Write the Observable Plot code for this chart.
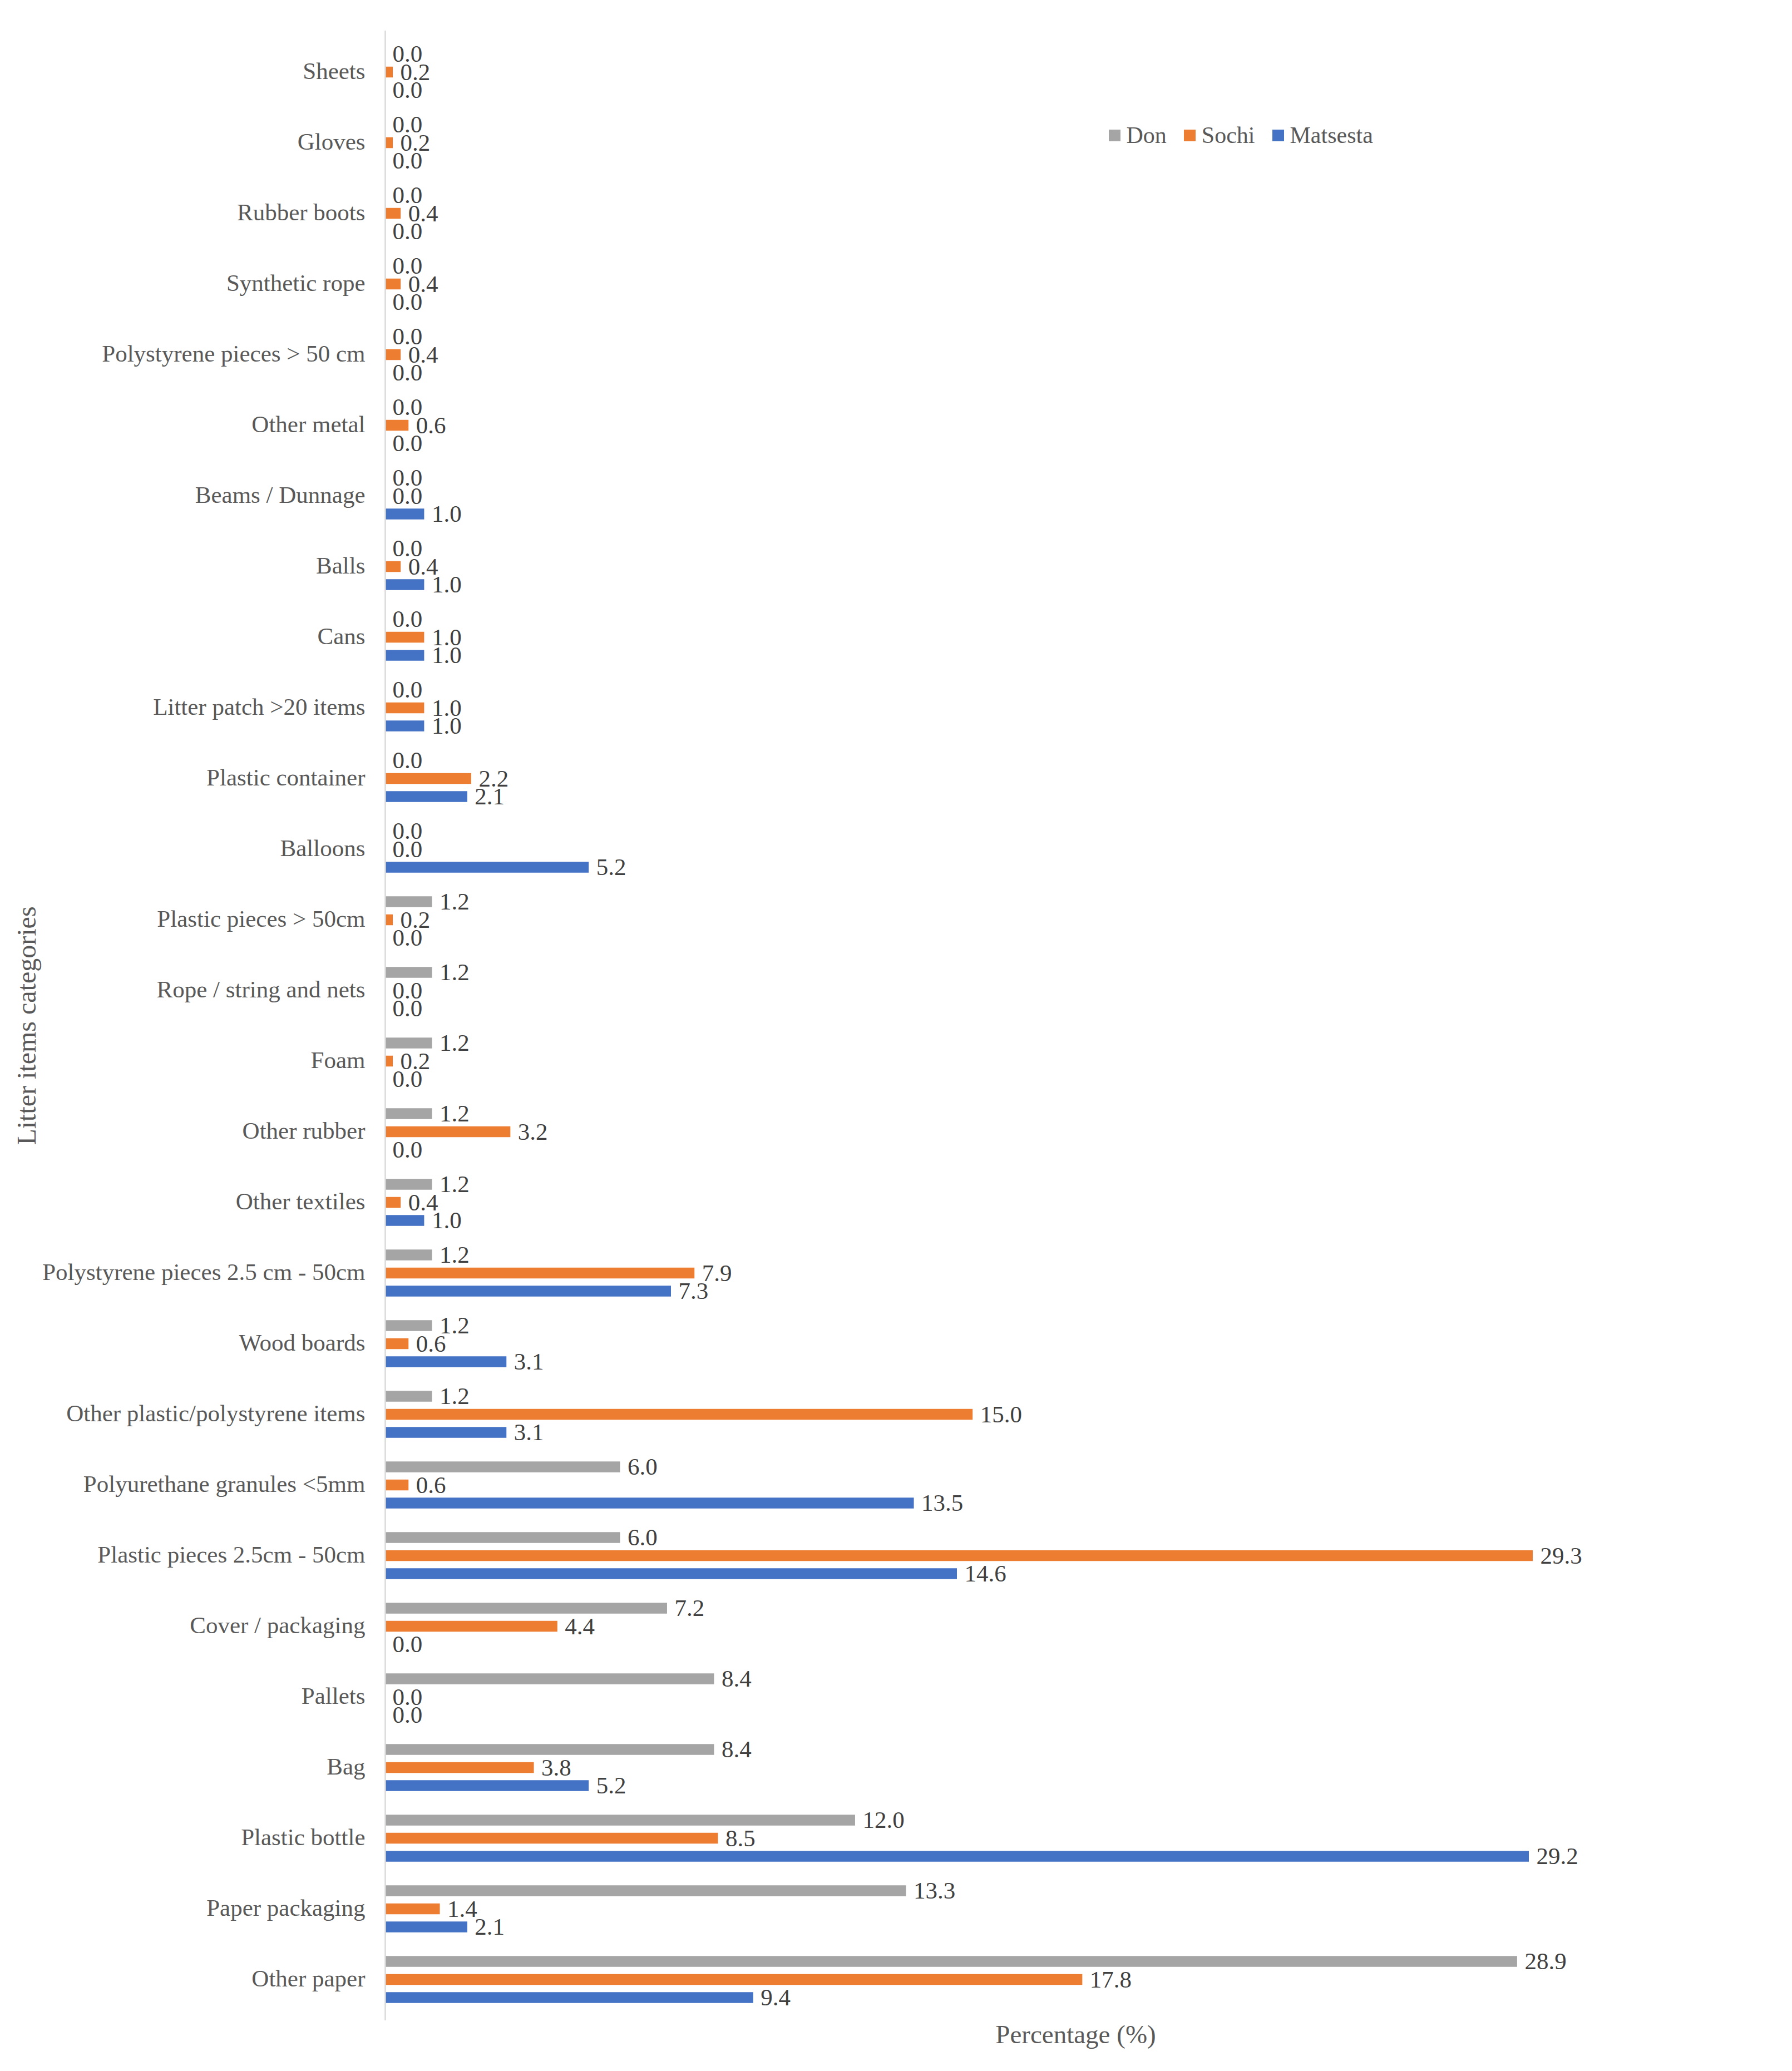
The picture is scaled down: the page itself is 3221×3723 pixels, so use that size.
<!DOCTYPE html>
<html>
<head>
<meta charset="utf-8">
<script src="https://cdn.jsdelivr.net/npm/d3@7"></script>
<script src="https://cdn.jsdelivr.net/npm/@observablehq/plot@0.6"></script>
<style>
  html, body { margin: 0; padding: 0; background: #fff; }
  #wrap { position: relative; width: 3221px; height: 3723px; }
  #legend { position: absolute; left: 1993px; top: 219px; }
  #legend span { margin-right: 0.75em !important; }
  #legend svg { margin-right: 0.25em !important; }
</style>
</head>
<body>
<div id="wrap"><div id="chart"></div><div id="legend"></div></div>
<script>
const categories = [
  "Sheets", "Gloves", "Rubber boots", "Synthetic rope", "Polystyrene pieces > 50 cm",
  "Other metal", "Beams / Dunnage", "Balls", "Cans", "Litter patch >20 items",
  "Plastic container", "Balloons", "Plastic pieces > 50cm", "Rope / string and nets",
  "Foam", "Other rubber", "Other textiles", "Polystyrene pieces 2.5 cm - 50cm",
  "Wood boards", "Other plastic/polystyrene items", "Polyurethane granules <5mm",
  "Plastic pieces 2.5cm - 50cm", "Cover / packaging", "Pallets", "Bag",
  "Plastic bottle", "Paper packaging", "Other paper"
];
const seriesNames = ["Don", "Sochi", "Matsesta"];
const seriesColors = ["#A5A5A5", "#ED7D31", "#4472C4"];
const don      = [0,0,0,0,0,0,0,0,0,0,0,0,1.2,1.2,1.2,1.2,1.2,1.2,1.2,1.2,6.0,6.0,7.2,8.4,8.4,12.0,13.3,28.9];
const sochi    = [0.2,0.2,0.4,0.4,0.4,0.6,0,0.4,1.0,1.0,2.2,0,0.2,0,0.2,3.2,0.4,7.9,0.6,15.0,0.6,29.3,4.4,0,3.8,8.5,1.4,17.8];
const matsesta = [0,0,0,0,0,0,1.0,1.0,1.0,1.0,2.1,5.2,0,0,0,0,1.0,7.3,3.1,3.1,13.5,14.6,0,0,5.2,29.2,2.1,9.4];

const values = [don, sochi, matsesta];
const rows = [];
seriesNames.forEach((s, si) => {
  categories.forEach((c, ci) => rows.push({category: c, series: s, value: values[si][ci]}));
});

const font = "'Liberation Serif', 'Times New Roman', serif";
const barH = 25;
const stepOffset = 32.5;
const bandStep = 132.5;
const inset = (bandStep - barH) / 2;

const marks = [];
seriesNames.forEach((s, si) => {
  const d = rows.filter(r => r.series === s);
  const off = (si - 1) * stepOffset;
  marks.push(Plot.barX(d, {
    x: "value", y: "category", fill: "series",
    insetTop: inset, insetBottom: inset, dy: off
  }));
  marks.push(Plot.text(d, {
    x: "value", y: "category", text: r => r.value.toFixed(1),
    textAnchor: "start", dx: 13, dy: off,
    fill: "#404040", fontSize: 43
  }));
});

const chart = Plot.plot({
  width: 3221,
  height: 3723,
  marginLeft: 692,
  marginRight: 47,
  marginTop: 55,
  marginBottom: 91,
  style: {fontFamily: font, background: "#fff"},
  x: {domain: [0, 35.25], axis: null},
  y: {domain: categories, padding: 0, axis: null},
  color: {domain: seriesNames, range: seriesColors},
  marks: [
    Plot.axisY({tickSize: 0, tickPadding: 36, fontSize: 43, fill: "#595959", label: null, dy: -2}),
    ...marks,
    Plot.ruleX([0], {stroke: "#D9D9D9", strokeWidth: 2.5}),
    Plot.text(["Percentage (%)"], {frameAnchor: "bottom", dy: 40, fontSize: 47, fill: "#595959"}),
    Plot.text(["Litter items categories"], {frameAnchor: "left", textAnchor: "middle", dx: -644, rotate: -90, fontSize: 48, fill: "#595959"})
  ]
});
document.getElementById("chart").appendChild(chart);

const legend = Plot.legend({
  color: {domain: seriesNames, range: seriesColors},
  legend: "swatches",
  swatchSize: 21,
  style: {fontFamily: font, fontSize: "42px", color: "#595959"}
});
document.getElementById("legend").appendChild(legend);
</script>
</body>
</html>
